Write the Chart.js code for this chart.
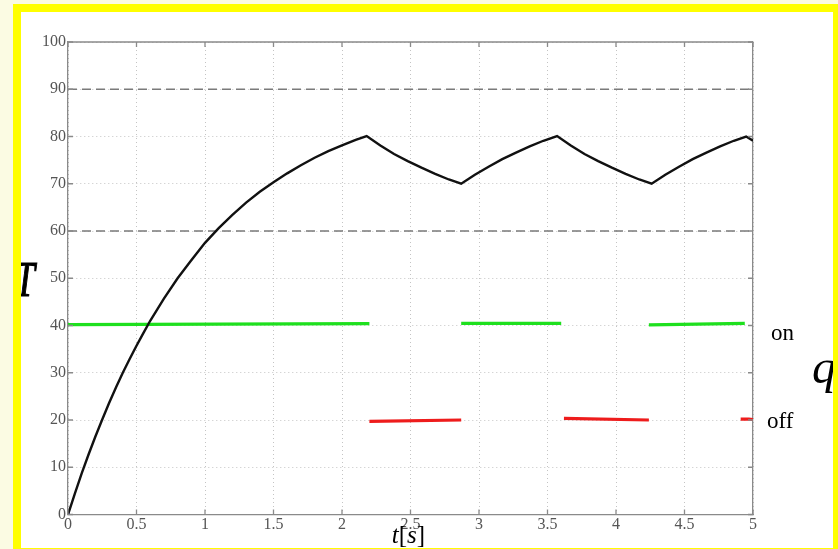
<!DOCTYPE html>
<html>
<head>
<meta charset="utf-8">
<script src="https://cdn.jsdelivr.net/npm/chart.js@4/dist/chart.umd.min.js"></script>
<style>
  html, body { margin: 0; padding: 0; width: 838px; height: 549px; overflow: hidden; background: #fbfbe3; }
  #frame {
    position: absolute; left: 13px; top: 4px;
    width: 812px; height: 536px;
    border: 8px solid #ffff00;
    background: #ffffff; overflow: hidden;
  }
  #plot { position: absolute; left: 0; top: 0; }
</style>
</head>
<body>
<div id="frame"><canvas id="plot" width="812" height="536"></canvas></div>
<script>
// Temperature T over time t[s]
const timeS = [0, 0.05, 0.1, 0.15, 0.2, 0.25, 0.3, 0.35, 0.4, 0.45, 0.5, 0.55, 0.6, 0.7, 0.8, 0.9, 1.0, 1.1, 1.2, 1.3, 1.4, 1.5, 1.6, 1.7, 1.8, 1.9, 2.0, 2.1, 2.18,
               2.28, 2.38, 2.48, 2.58, 2.68, 2.78, 2.87,
               2.97, 3.07, 3.17, 3.27, 3.37, 3.47, 3.57,
               3.67, 3.77, 3.87, 3.97, 4.07, 4.17, 4.26,
               4.36, 4.46, 4.56, 4.66, 4.76, 4.86, 4.95, 5.0];
const temperature = [0, 4.4, 8.7, 12.7, 16.5, 20.1, 23.6, 26.9, 30.0, 32.9, 35.7, 38.4, 41.0, 45.7, 50.0, 53.8, 57.5, 60.6, 63.4, 66.0, 68.3, 70.3, 72.2, 73.9, 75.5, 76.9, 78.1, 79.3, 80.1,
                     78.1, 76.3, 74.8, 73.4, 72.1, 70.9, 70.0,
                     71.9, 73.6, 75.2, 76.6, 77.9, 79.1, 80.1,
                     78.1, 76.3, 74.8, 73.4, 72.1, 70.9, 70.0,
                     71.9, 73.6, 75.2, 76.6, 77.9, 79.1, 80.0, 79.1];

// Heater state q: "on" segments (green) and "off" segments (red); null breaks a segment
const onTime  = [0, 2.2, null, 2.87, 3.6, null, 4.24, 4.94];
const onLevel = [40.2, 40.4, null, 40.45, 40.45, null, 40.15, 40.45];
const offTime  = [2.2, 2.87, null, 3.62, 4.24, null, 4.91, 4.97, 5.0];
const offLevel = [19.7, 20.0, null, 20.35, 20.0, null, 20.2, 20.2, 20.1];

// Switching thresholds
const upperBand = 90;
const lowerBand = 60;
const tRange = [0, 5];

// Axes
const xTicksStep = 0.5;
const yTicksStep = 10;
const stateLabels = [{ value: 40, text: 'on' }, { value: 20, text: 'off' }];

const pts = (xs, ys) => xs.map((x, i) => ({ x: x, y: ys[i] }));
const segPts = (xs, ys) => xs.map((x, i) => (x === null ? { x: NaN, y: null } : { x: x, y: ys[i] }));

const serif = "'Liberation Serif', 'DejaVu Serif', serif";
const axisGrey = '#8a8a8a';

const decorations = {
  id: 'decorations',
  afterDatasetsDraw(chart) {
    const { ctx, chartArea: a, scales } = chart;
    ctx.save();
    // box frame (top edge)
    ctx.strokeStyle = axisGrey;
    ctx.lineWidth = 1.3;
    ctx.beginPath();
    ctx.moveTo(a.left, a.top);
    ctx.lineTo(a.right, a.top);
    ctx.stroke();
    // inward tick marks on all four sides
    const tl = 5;
    ctx.beginPath();
    scales.x.ticks.forEach(t => {
      const px = scales.x.getPixelForValue(t.value);
      ctx.moveTo(px, a.bottom); ctx.lineTo(px, a.bottom - tl);
      ctx.moveTo(px, a.top); ctx.lineTo(px, a.top + tl);
    });
    scales.y.ticks.forEach(t => {
      const py = scales.y.getPixelForValue(t.value);
      ctx.moveTo(a.left, py); ctx.lineTo(a.left + tl, py);
    });
    scales.y2.ticks.forEach(t => {
      const py = scales.y2.getPixelForValue(t.value);
      ctx.moveTo(a.right, py); ctx.lineTo(a.right - tl, py);
    });
    ctx.stroke();

    // state labels on the right axis
    ctx.fillStyle = '#000';
    ctx.font = "23px " + serif;
    ctx.textAlign = 'left';
    ctx.textBaseline = 'alphabetic';
    const onY = scales.y2.getPixelForValue(stateLabels[0].value);
    const offY = scales.y2.getPixelForValue(stateLabels[1].value);
    ctx.fillText(stateLabels[0].text, a.right + 18, onY + 14);
    ctx.fillText(stateLabels[1].text, a.right + 14, offY + 8);

    // axis titles
    ctx.save();
    ctx.font = "italic 50px " + serif;
    const mT = ctx.measureText('T');
    ctx.translate(16, a.top + 254);
    ctx.scale(0.72, 1);
    ctx.strokeStyle = '#000';
    ctx.lineWidth = 1.2;
    ctx.fillText('T', -mT.actualBoundingBoxRight, 0);
    ctx.strokeText('T', -mT.actualBoundingBoxRight, 0);
    ctx.restore();

    ctx.font = "italic 48px " + serif;
    const mq = ctx.measureText('q');
    ctx.fillText('q', 792 + mq.actualBoundingBoxLeft, a.top + 341);

    const cx = (a.left + a.right) / 2 - 2;
    ctx.font = "italic 25px " + serif;
    const wt = ctx.measureText('t').width;
    const ws = ctx.measureText('s').width;
    ctx.font = "25px " + serif;
    const wb = ctx.measureText('[').width;
    const total = wt + 2 * wb + ws;
    let x0 = cx - total / 2;
    const by = a.bottom + 28;
    ctx.font = "italic 25px " + serif; ctx.fillText('t', x0, by); x0 += wt;
    ctx.font = "25px " + serif; ctx.fillText('[', x0, by); x0 += wb;
    ctx.font = "italic 25px " + serif; ctx.fillText('s', x0, by); x0 += ws;
    ctx.font = "25px " + serif; ctx.fillText(']', x0, by);
    ctx.restore();
  }
};

new Chart(document.getElementById('plot'), {
  type: 'line',
  data: {
    datasets: [
      {
        label: 'T',
        data: pts(timeS, temperature),
        borderColor: '#111111', borderWidth: 2.4,
        pointRadius: 0, tension: 0, order: 0
      },
      {
        label: 'on',
        data: segPts(onTime, onLevel),
        borderColor: '#1ee01e', borderWidth: 3.2,
        pointRadius: 0, spanGaps: false, order: 2
      },
      {
        label: 'off',
        data: segPts(offTime, offLevel),
        borderColor: '#ee1c1c', borderWidth: 3.2,
        pointRadius: 0, spanGaps: false, order: 2
      },
      {
        label: 'upper',
        data: pts(tRange, [upperBand, upperBand]),
        borderColor: '#7a7a7a', borderWidth: 1.5, borderDash: [9, 5],
        pointRadius: 0, order: 3
      },
      {
        label: 'lower',
        data: pts(tRange, [lowerBand, lowerBand]),
        borderColor: '#7a7a7a', borderWidth: 1.5, borderDash: [9, 5],
        pointRadius: 0, order: 3
      },
      {
        label: 'start',
        data: pts([timeS[0]], [temperature[0]]),
        borderColor: '#2030ff', backgroundColor: '#2030ff',
        pointRadius: 1.6, showLine: false, order: 1
      }
    ]
  },
  options: {
    responsive: false,
    animation: false,
    devicePixelRatio: 1,
    layout: { padding: { top: 30, left: 0, right: 0, bottom: 0 } },
    plugins: { legend: { display: false }, tooltip: { enabled: false } },
    scales: {
      x: {
        type: 'linear', min: 0, max: 5,
        ticks: { stepSize: xTicksStep, color: '#555', font: { family: serif, size: 16 }, padding: 1, maxRotation: 0,
                 callback: v => String(v) },
        grid: { color: '#c4c4c4', lineWidth: 1, drawTicks: false },
        border: { display: true, color: axisGrey, width: 1.3, dash: [1, 3] },
        afterFit(s) { s.height = 33.5; }
      },
      y: {
        type: 'linear', min: 0, max: 100, position: 'left',
        ticks: { stepSize: yTicksStep, color: '#555', font: { family: serif, size: 16 }, padding: 2 },
        grid: { color: '#c4c4c4', lineWidth: 1, drawTicks: false },
        border: { display: true, color: axisGrey, width: 1.3, dash: [1, 3] },
        afterFit(s) { s.width = 47; }
      },
      y2: {
        type: 'linear', min: 0, max: 100, position: 'right',
        ticks: { stepSize: yTicksStep, display: false },
        grid: { display: false, drawTicks: false },
        border: { display: true, color: axisGrey, width: 1.3 },
        afterFit(s) { s.width = 80; }
      }
    }
  },
  plugins: [decorations]
});
</script>
</body>
</html>
